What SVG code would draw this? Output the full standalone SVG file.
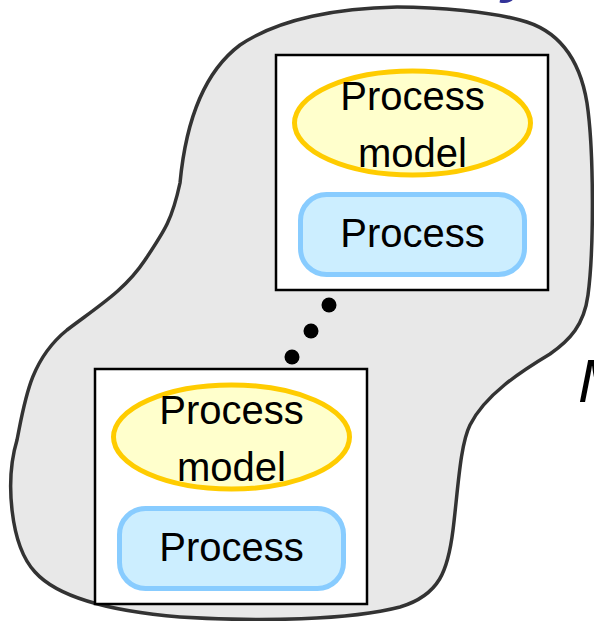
<svg xmlns="http://www.w3.org/2000/svg" width="594" height="621" viewBox="0 0 594 621">
  <style>
    .frame { fill: #ffffff; stroke: #000000; stroke-width: 2.5; }
    .model { fill: #ffffcc; stroke: #ffcc00; stroke-width: 5; }
    .proc { fill: #cceeff; stroke: #88ccff; stroke-width: 5; }
    .lbl { font-family: "Liberation Sans", Arial, sans-serif; font-size: 40px; fill: #000000; text-anchor: middle; }
    .dot { fill: #000000; }
  </style>

  <!-- background white -->
  <rect x="0" y="0" width="594" height="621" fill="#ffffff"/>

  <!-- headings cut by the page edge -->
  <text x="502" y="-9" font-family="'Liberation Sans', Arial, sans-serif" font-size="60" font-style="italic" font-weight="bold" fill="#333399">y</text>
  <text x="578" y="402" font-family="'Liberation Sans', Arial, sans-serif" font-size="62" font-style="italic" fill="#000000">M</text>

  <!-- enclosing region -->
  <path id="region" d="M 180,183 C 185,130 200,75 240,45 C 280,18 340,8 397,7 C 440,7 490,12 520,20 C 560,30 580,60 587,103 C 594,150 594,250 588,295 C 584,325 570,340 550,354 C 520,372 485,395 470,425 C 460,445 458,490 453,530 C 448,570 440,595 400,607 C 350,620 260,622 180,617 C 120,612 60,600 35,572 C 10,545 5,480 17,440 C 25,400 30,360 67,330 C 100,305 125,290 145,260 C 165,230 172,220 180,183 Z" fill="#e8e8e8" stroke="#333333" stroke-width="3.5"/>

  <!-- upper node -->
  <g id="node-upper">
    <rect class="frame" x="276" y="55" width="272" height="235"/>
    <ellipse class="model" cx="412.5" cy="123" rx="118" ry="52"/>
    <text class="lbl" x="412.5" y="110">Process</text>
    <text class="lbl" x="412.5" y="167">model</text>
    <rect class="proc" x="300.5" y="194.5" width="224" height="80" rx="26" ry="26"/>
    <text class="lbl" x="412.5" y="247">Process</text>
  </g>

  <!-- lower node -->
  <g id="node-lower">
    <rect class="frame" x="95" y="369" width="272" height="235"/>
    <ellipse class="model" cx="231.5" cy="437" rx="118" ry="52"/>
    <text class="lbl" x="231.5" y="424">Process</text>
    <text class="lbl" x="231.5" y="481">model</text>
    <rect class="proc" x="119.5" y="508.5" width="224" height="80" rx="26" ry="26"/>
    <text class="lbl" x="231.5" y="561">Process</text>
  </g>

  <!-- connectors: ellipsis dots between the nodes -->
  <g id="connectors">
    <circle class="dot" cx="329" cy="305" r="7.5"/>
    <circle class="dot" cx="311" cy="331" r="7.5"/>
    <circle class="dot" cx="292" cy="357" r="7.5"/>
  </g>
</svg>
